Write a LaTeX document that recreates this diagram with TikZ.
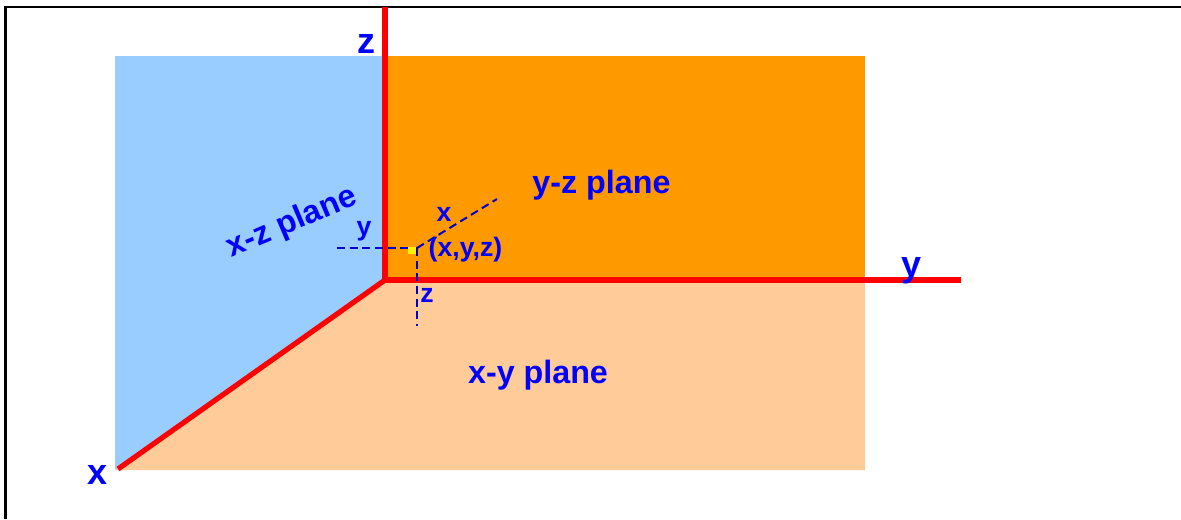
\documentclass[tikz,border=0pt]{standalone}
\usepackage{xcolor}
\usepackage{fontspec}
\setmainfont{Liberation Sans}
\usepackage{tikz}
\usetikzlibrary{positioning}
\definecolor{SoftBlue}{HTML}{99CCFF}
\definecolor{DeepOrange}{HTML}{FF9900}
\definecolor{SoftOrange}{HTML}{FFCC99}
\definecolor{LabelBlue}{HTML}{0000FF}
\definecolor{DashBlue}{HTML}{0000CC}

\begin{document}
\begin{tikzpicture}[
    x=0.75pt,y=-0.75pt,
    plane/.style={draw=none},
    axis/.style={draw=red,line width=3.9pt},
    guide/.style={draw=DashBlue,line width=1.5pt,dash pattern=on 6pt off 3.5pt},
    frameline/.style={draw=black,line width=2.1pt},
    axislabel/.style={inner sep=0pt,text=LabelBlue,font=\fontsize{27}{27}\selectfont\bfseries},
    planelabel/.style={inner sep=0pt,text=LabelBlue,font=\fontsize{24.2}{24.2}\selectfont\bfseries},
    smalllabel/.style={inner sep=0pt,text=LabelBlue,font=\fontsize{20}{20}\selectfont\bfseries}
]
\useasboundingbox (0,0) rectangle (1181,519);
% planes
\fill[SoftBlue,plane] (115,56) -- (385,56) -- (385,280) -- (115,470) -- cycle;
\fill[DeepOrange,plane] (385,56) rectangle (865,280);
\fill[SoftOrange,plane] (385,280) -- (865,280) -- (865,470) -- (115,470) -- cycle;
% frame
\coordinate (corner) at (5.5,7);
\coordinate (frametop) at (1181,7);
\coordinate (framebottom) at (5.5,519);
\draw[frameline] (framebottom) -- (corner) -- (frametop);
% axes
\coordinate (origin) at (385,280);
\coordinate (xend) at (118,469);
\coordinate (yend) at (961,280);
\coordinate (zend) at (385,7);
\draw[axis] (origin) -- (zend);
\draw[axis] (origin) -- (yend);
\draw[axis] (origin) -- (xend);
% point and its guides
\coordinate (point) at (417,248);
\coordinate (yguide) at (337,248);
\coordinate (zguide) at (417,326);
\coordinate (xguide) at (497,199);
\draw[guide] (yguide) -- (point);
\draw[guide] (point) -- (zguide);
\draw[guide] (point) -- (xguide);
\node[fill=yellow,inner sep=0pt,minimum width=6pt,minimum height=5.5pt] (mark) at (412,250.5) {};
% labels
\node[axislabel] (xlabel) at (98,475) {x};
\node[axislabel] (ylabel) at (911,271) {y};
\node[axislabel] (zlabel) at (366,44) {z};
\node[planelabel,rotate=23] (xzplane) at (292,223) {x-z plane};
\node[planelabel] (yzplane) at (601.5,185) {y-z plane};
\node[planelabel] (xyplane) at (538,375) {x-y plane};
\node[smalllabel] (pointlabel) at (465.5,250) {(x,y,z)};
\node[smalllabel] (xsmall) at (444,214) {x};
\node[smalllabel] (ysmall) at (364,231) {y};
\node[smalllabel] (zsmall) at (427,295) {z};
\end{tikzpicture}
\end{document}
